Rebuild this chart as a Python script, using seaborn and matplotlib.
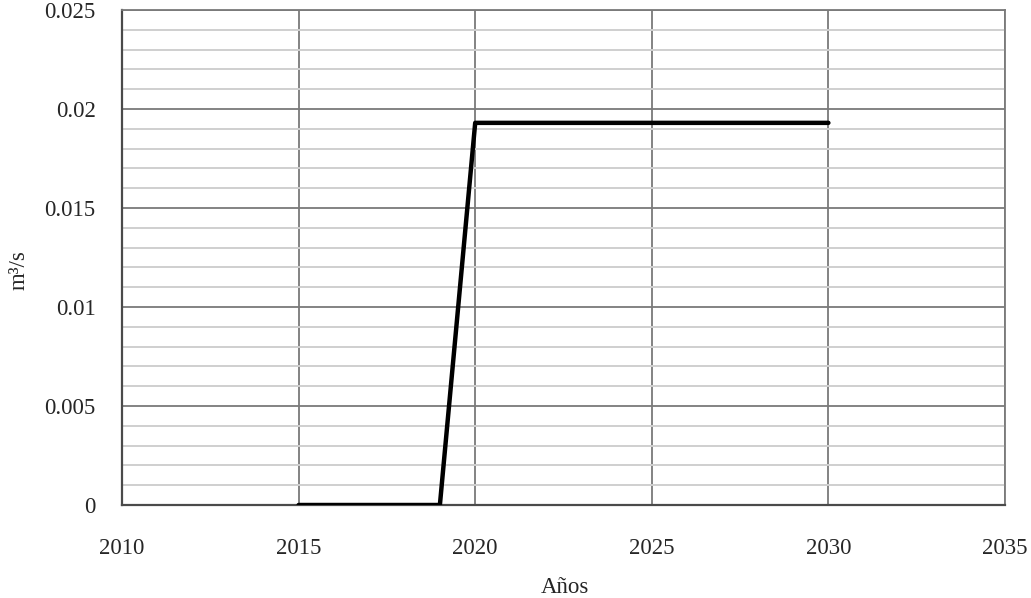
import matplotlib
matplotlib.use("Agg")
import matplotlib.pyplot as plt
import numpy as np
import pandas as pd
import seaborn as sns

years = [2015, 2016, 2017, 2018, 2019, 2020, 2021, 2022, 2023, 2024, 2025, 2026, 2027, 2028, 2029, 2030]
flow = [0, 0, 0, 0, 0, 0.0193, 0.0193, 0.0193, 0.0193, 0.0193, 0.0193, 0.0193, 0.0193, 0.0193, 0.0193, 0.0193]
x_ticks = [2010, 2015, 2020, 2025, 2030, 2035]
y_ticks = [0, 0.005, 0.01, 0.015, 0.02, 0.025]
y_labels = ["0", "0.005", "0.01", "0.015", "0.02", "0.025"]

df = pd.DataFrame({"year": years, "flow": flow})

sns.set_style("white")
plt.rcParams["font.family"] = ["Liberation Serif", "DejaVu Serif"]

fig = plt.figure(figsize=(10.31, 5.98), dpi=100)
ax = fig.add_axes([122 / 1031, 1 - 505 / 598, (1005 - 122) / 1031, (505 - 10) / 598])

ax.set_xlim(2010, 2035)
ax.set_ylim(0, 0.025)
ax.set_xticks(x_ticks)
ax.set_yticks(y_ticks)
ax.set_yticklabels(y_labels)
ax.set_yticks(np.arange(0, 0.0251, 0.001), minor=True)

ax.grid(which="minor", axis="y", color="#cfcfcf", lw=1.4, zorder=0)
ax.grid(which="major", axis="both", color="#7a7a7a", lw=1.3, zorder=1)
ax.set_axisbelow(True)

sns.lineplot(data=df, x="year", y="flow", color="black", lw=3.2, ax=ax, zorder=3)

for s in ["top", "right"]:
    ax.spines[s].set_color("#7a7a7a")
    ax.spines[s].set_linewidth(1.3)
for s in ["left", "bottom"]:
    ax.spines[s].set_color("#4a4a4a")
    ax.spines[s].set_linewidth(1.6)

ax.tick_params(axis="y", which="both", length=0, pad=19, labelsize=16.5)
ax.tick_params(axis="x", length=0, pad=24, labelsize=16.5)
ax.set_xlabel("Años", fontsize=16.5)
ax.set_ylabel("m³/s", fontsize=16.5)
ax.xaxis.set_label_coords(0.502, -0.145)
ax.yaxis.set_label_coords(-0.105, 0.475)

fig.savefig("out.png", dpi=100)
